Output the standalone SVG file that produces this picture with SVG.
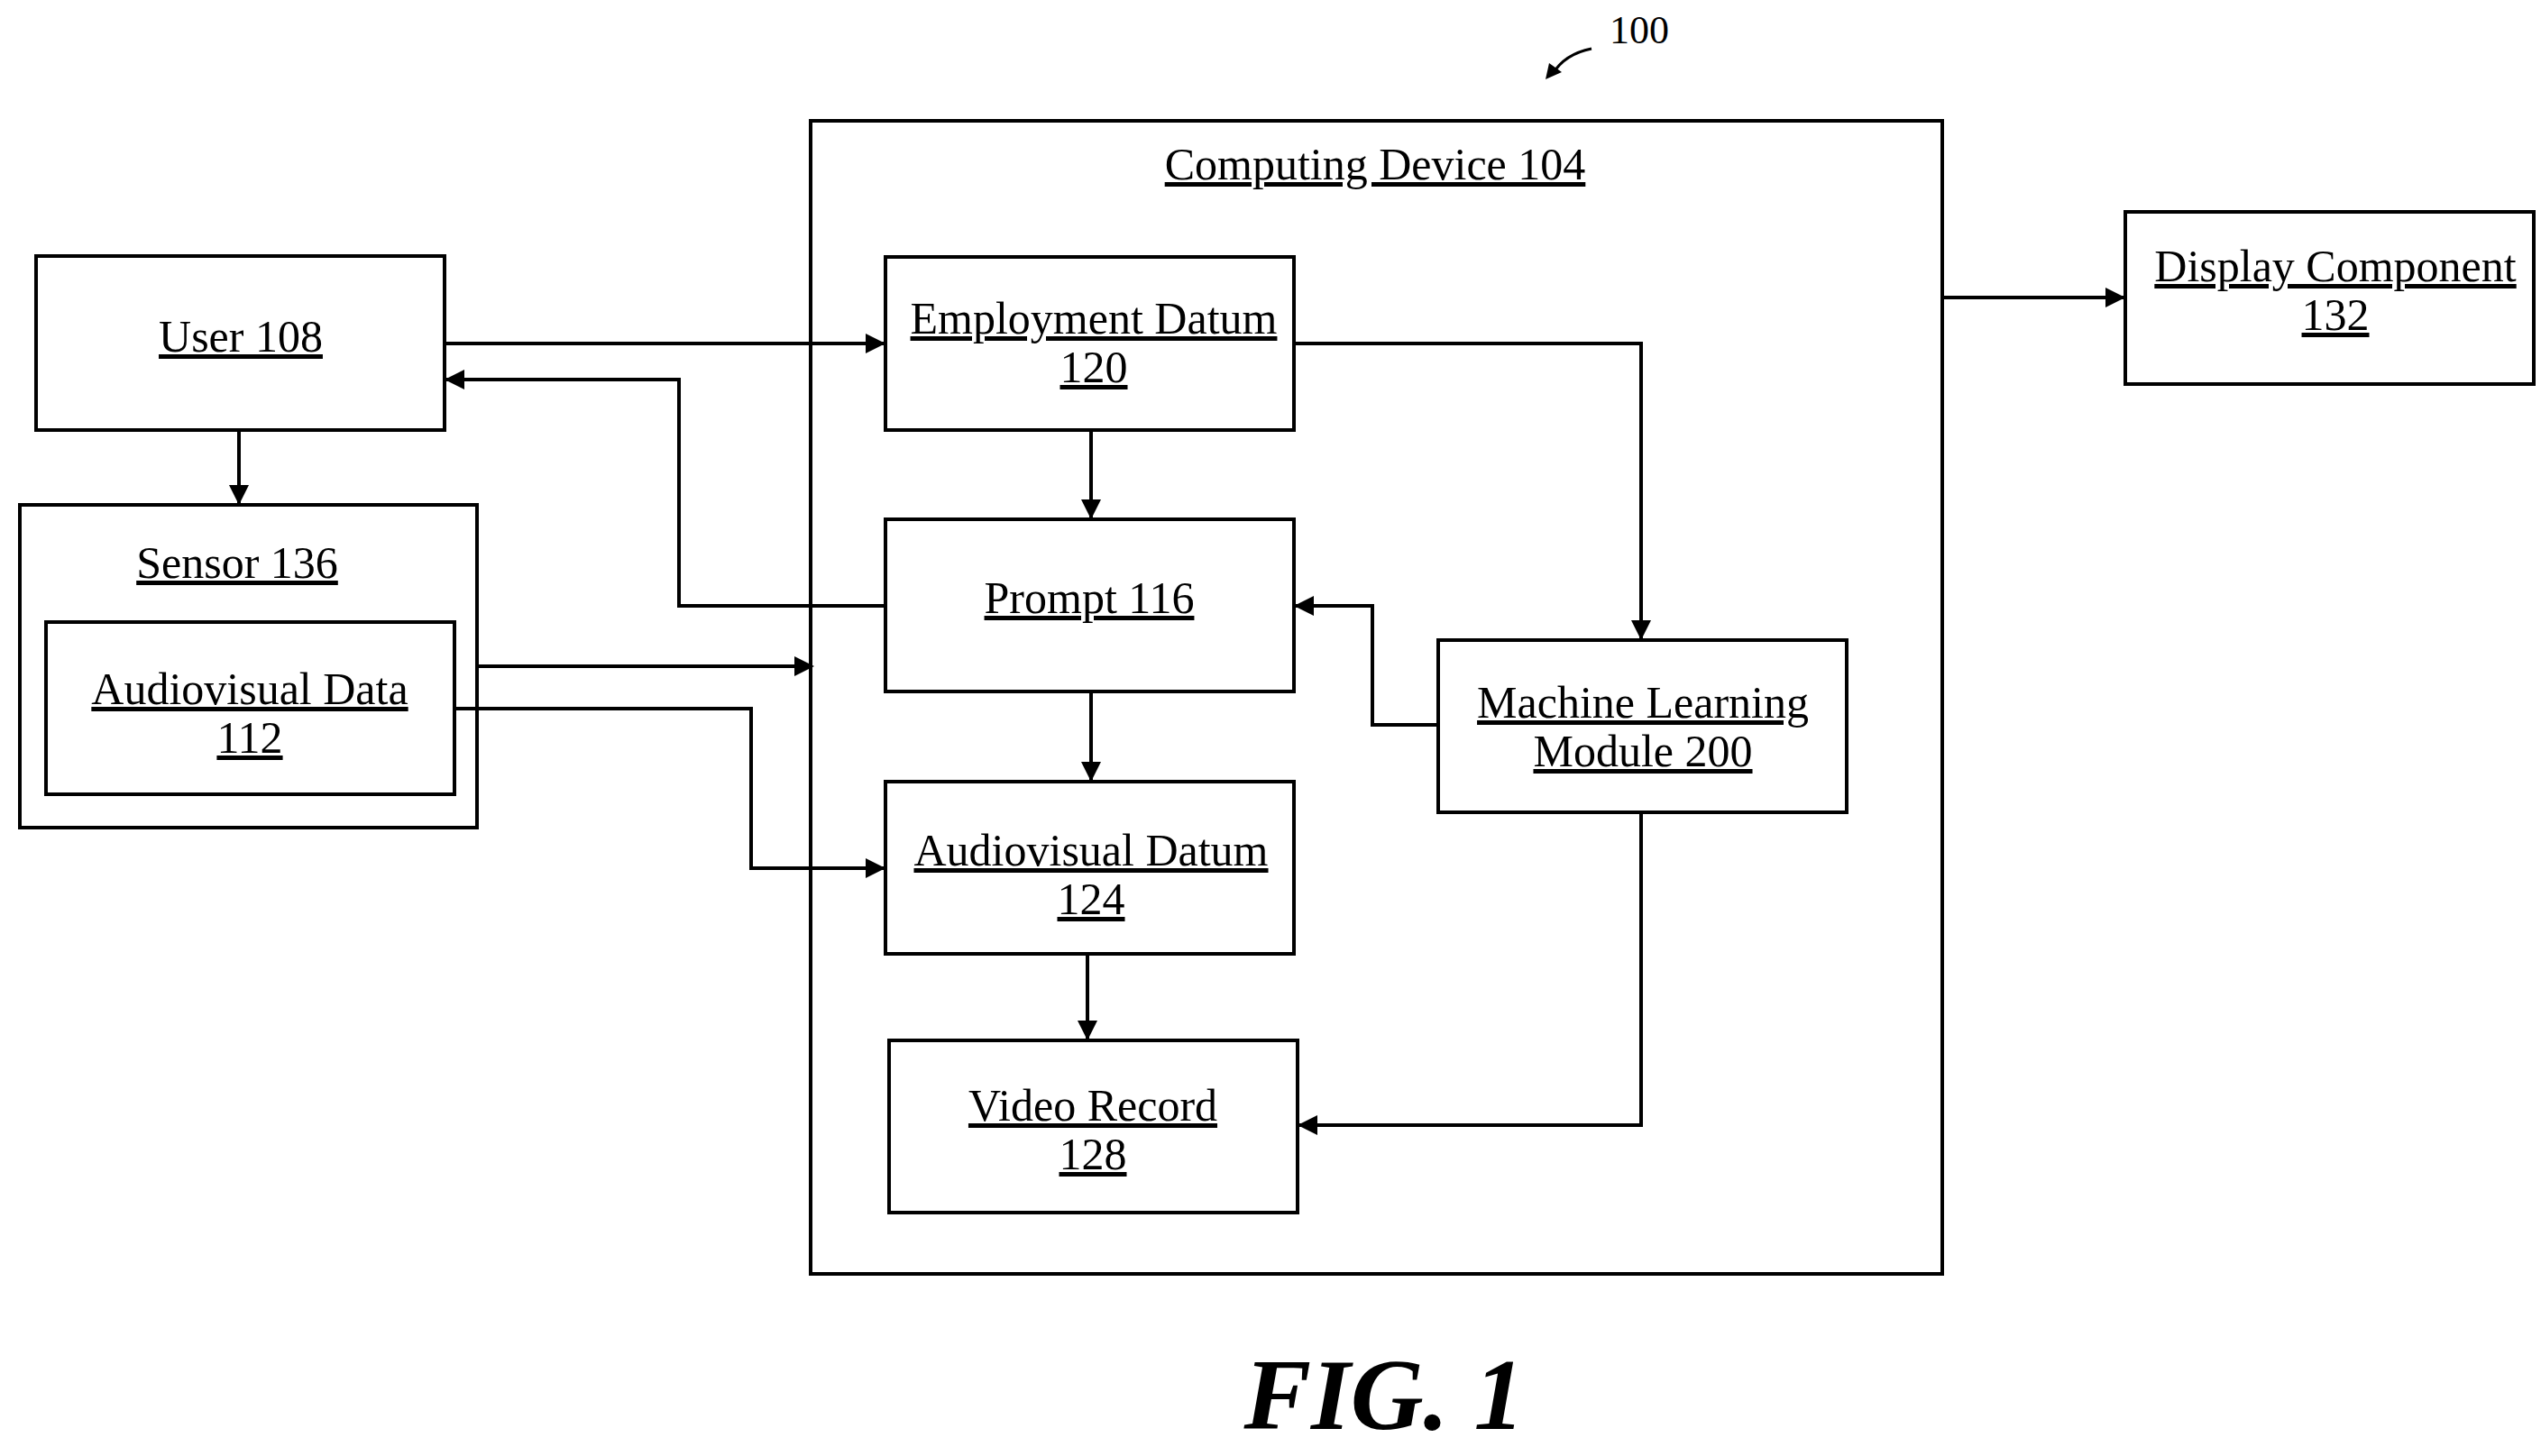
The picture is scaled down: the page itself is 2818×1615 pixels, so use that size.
<svg xmlns="http://www.w3.org/2000/svg" width="2818" height="1615" viewBox="0 0 2818 1615">
<style>
rect{fill:none;stroke:#000;stroke-width:4}
text{font-family:"Liberation Serif",serif;font-size:50px;text-anchor:middle;text-decoration:underline}
</style>
<defs>
<marker id="b" markerWidth="22" markerHeight="22" refX="20" refY="11" orient="auto" markerUnits="userSpaceOnUse"><path d="M0,0L22,11L0,22Z"/></marker></defs>
<rect width="2818" height="1615" style="fill:#fff;stroke:none"/>
<g id="computing"><rect x="899" y="134" width="1255" height="1279"/><text x="1525" y="199">Computing Device 104</text></g>
<g id="user"><rect x="40" y="284" width="453" height="193"/><text x="267" y="390">User 108</text></g>
<g id="sensor"><rect x="22" y="560" width="507" height="358"/><text x="263" y="641">Sensor 136</text></g>
<g id="avdata"><rect x="51" y="690" width="453" height="191"/><text x="277" y="781">Audiovisual Data</text><text x="277" y="835">112</text></g>
<g id="employment"><rect x="982" y="285" width="453" height="192"/><text x="1213" y="370">Employment Datum</text><text x="1213" y="424">120</text></g>
<g id="prompt"><rect x="982" y="576" width="453" height="191"/><text x="1208" y="680">Prompt 116</text></g>
<g id="avdatum"><rect x="982" y="867" width="453" height="191"/><text x="1210" y="960">Audiovisual Datum</text><text x="1210" y="1014">124</text></g>
<g id="video"><rect x="986" y="1154" width="453" height="191"/><text x="1212" y="1243">Video Record</text><text x="1212" y="1297">128</text></g>
<g id="ml"><rect x="1595" y="710" width="453" height="191"/><text x="1822" y="796">Machine Learning</text><text x="1822" y="850">Module 200</text></g>
<g id="display"><rect x="2357" y="235" width="453" height="191"/><text x="2590" y="312">Display Component</text><text x="2590" y="366">132</text></g>
<g id="connectors" style="fill:none;stroke:#000;stroke-width:4">
<path d="M493,381H980" marker-end="url(#b)"/>
<path d="M982,672H753V421H495" marker-end="url(#b)"/>
<path d="M265,477V558" marker-end="url(#b)"/>
<path d="M529,739H901" marker-end="url(#b)"/>
<path d="M504,786H833V963H980" marker-end="url(#b)"/>
<path d="M1210,477V574" marker-end="url(#b)"/>
<path d="M1210,767V865" marker-end="url(#b)"/>
<path d="M1206,1058V1152" marker-end="url(#b)"/>
<path d="M1435,381H1820V708" marker-end="url(#b)"/>
<path d="M1595,804H1522V672H1437" marker-end="url(#b)"/>
<path d="M1820,901V1248H1441" marker-end="url(#b)"/>
<path d="M2154,330H2355" marker-end="url(#b)"/>
<path d="M1765,54Q1735,60 1722,82" stroke-width="3"/>
<path d="M1714,88L1718,70L1732,80Z" fill="#000" stroke="none"/>
</g>
<text x="1818" y="48" style="text-decoration:none;font-size:44px">100</text>
<text x="1535" y="1585" style="text-decoration:none;font-size:112px;font-weight:bold;font-style:italic">FIG. 1</text>
</svg>
